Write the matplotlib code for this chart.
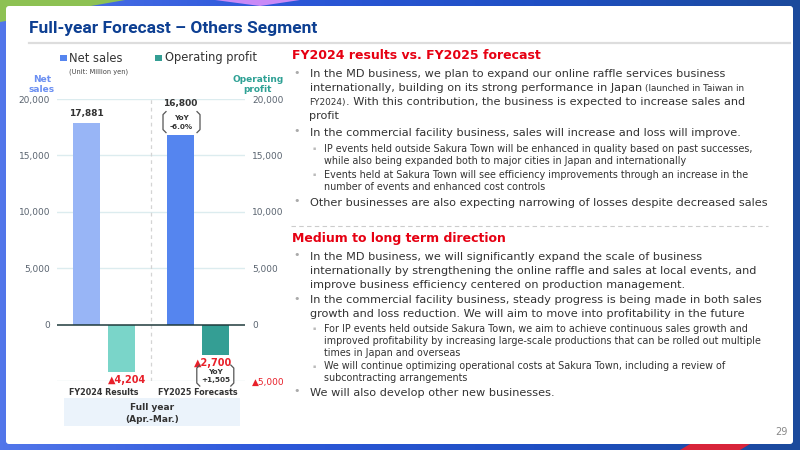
import numpy as np
import matplotlib
matplotlib.use('Agg')
import matplotlib.pyplot as plt
from matplotlib.colors import LinearSegmentedColormap
from matplotlib.patches import FancyBboxPatch, Rectangle, Polygon

# ---- data ----
categories = ['FY2024 Results', 'FY2025 Forecasts']
net_sales = [17881, 16800]
operating_profit = [-4204, -2700]
yoy_labels = ['-6.0%', '+1,505']
y_ticks = [20000, 15000, 10000, 5000, 0, -5000]

title = 'Full-year Forecast \u2013 Others Segment'
heading1 = 'FY2024 results vs. FY2025 forecast'
heading2 = 'Medium to long term direction'

# paragraphs: (level, start y, lines); a line is a list of (text, small)
para1 = [
    (0, 74, [[('In the MD business, we plan to expand our online raffle services business', False)],
             [('internationally, building on its strong performance in Japan ', False),
              ('(launched in Taiwan in', True)],
             [('FY2024)', True), ('. With this contribution, the business is expected to increase sales and', False)],
             [('profit', False)]]),
    (0, 132.5, [[('In the commercial facility business, sales will increase and loss will improve.', False)]]),
    (1, 148.5, [[('IP events held outside Sakura Town will be enhanced in quality based on past successes,', False)],
                [('while also being expanded both to major cities in Japan and internationally', False)]]),
    (1, 175, [[('Events held at Sakura Town will see efficiency improvements through an increase in the', False)],
              [('number of events and enhanced cost controls', False)]]),
    (0, 202.5, [[('Other businesses are also expecting narrowing of losses despite decreased sales', False)]]),
]
para2 = [
    (0, 256.5, [[('In the MD business, we will significantly expand the scale of business', False)],
                [('internationally by strengthening the online raffle and sales at local events, and', False)],
                [('improve business efficiency centered on production management.', False)]]),
    (0, 300, [[('In the commercial facility business, steady progress is being made in both sales', False)],
              [('growth and loss reduction. We will aim to move into profitability in the future', False)]]),
    (1, 328.7, [[('For IP events held outside Sakura Town, we aim to achieve continuous sales growth and', False)],
                [('improved profitability by increasing large-scale productions that can be rolled out multiple', False)],
                [('times in Japan and overseas', False)]]),
    (1, 366, [[('We will continue optimizing operational costs at Sakura Town, including a review of', False)],
              [('subcontracting arrangements', False)]]),
    (0, 392.5, [[('We will also develop other new businesses.', False)]]),
]

W, H = 800, 450
fig = plt.figure(figsize=(8, 4.5), dpi=100)

# background layer in pixel coords (y down)
bg = fig.add_axes([0, 0, 1, 1], zorder=0)
bg.set_axis_off()
bg.set_xlim(0, W)
bg.set_ylim(H, 0)
cmap = LinearSegmentedColormap.from_list('bg', ['#5276ea', '#2d58da', '#1f4fc4', '#1b4a9c'])
bg.imshow(np.linspace(0, 1, 256).reshape(1, -1), aspect='auto', cmap=cmap, extent=[0, W, H, 0])
bg.add_patch(Polygon([[0, 0], [125, 0], [0, 22]], color='#8dc153', lw=0))
bg.add_patch(Polygon([[215, 0], [300, 0], [260, 6]], color='#c98af7', lw=0))
bg.add_patch(Polygon([[680, 450], [740, 450], [760, 438], [700, 438]], color='#d8243a', lw=0))
bg.add_patch(FancyBboxPatch((6, 6), 787, 438, boxstyle='round,pad=0,rounding_size=3',
                            fc='white', ec='none'))
bg.add_patch(Rectangle((64, 398), 176, 28, fc='#ebf3fb', ec='none'))
bg.plot([29, 790], [42.5, 42.5], color='#dddddd', lw=1.6)
bg.plot([291, 768], [226, 226], color='#cccccc', lw=0.8, ls=(0, (4, 3)))

# chart
ax = fig.add_axes([57 / W, 1 - 381 / H, 188 / W, 282 / H], zorder=2)
ax.set_facecolor('none')
x = np.arange(len(categories))
off, bw = 0.184, 0.287
ax.bar(x - off, net_sales, bw, color=['#98b5f6', '#5585ef'], zorder=3)
ax.bar(x + off, operating_profit, bw, color=['#7ad5c9', '#349e94'], zorder=3)
ax.set_xlim(-0.5, 1.5)
ax.set_ylim(-5000, 20000)
for t in y_ticks:
    if t == 0:
        ax.axhline(0, color='#1f3a3c', lw=1.1, zorder=4)
    else:
        ax.axhline(t, color='#dcecef', lw=1.0, zorder=1)
ax.axvline(0.5, color='#d4d4d4', lw=0.9, ls=(0, (3, 3)), zorder=1)
for s in ax.spines.values():
    s.set_visible(False)
ax.set_xticks([])
ax.set_yticks(y_ticks)
ax.set_yticklabels([f'{t:,}' if t >= 0 else '' for t in y_ticks])
ax.tick_params(axis='y', length=0, pad=5, labelsize=6.5, labelcolor='#5a6470')

ax2 = ax.twinx()
ax2.set_ylim(ax.get_ylim())
ax2.set_yticks(y_ticks)
ax2.set_yticklabels([f'{t:,}' if t >= 0 else f'\u25b2{-t:,}' for t in y_ticks])
for lab, t in zip(ax2.get_yticklabels(), y_ticks):
    lab.set_color('#e8202a' if t < 0 else '#5a6470')
for s in ax2.spines.values():
    s.set_visible(False)
ax2.tick_params(axis='y', length=0, pad=5, labelsize=6.5)

# value labels
sales_off = [6.5, 22.5]
for i, v in enumerate(net_sales):
    ax.annotate(f'{v:,}', (x[i] - off, v), xytext=(0, sales_off[i]), textcoords='offset points',
                ha='center', va='center', fontsize=6.5, fontweight='bold', color='#333333', zorder=5)
op_off = [(4, -6), (-1.5, -6)]
for i, v in enumerate(operating_profit):
    ax.annotate(f'\u25b2{-v:,}', (x[i] + off, v), xytext=op_off[i], textcoords='offset points',
                ha='center', va='center', fontsize=7, fontweight='bold', color='#e8202a', zorder=5)
for i, lab in enumerate(categories):
    ax.annotate(lab, (x[i], -5000), xytext=(0, -8), textcoords='offset points',
                ha='center', va='center', fontsize=5.8, fontweight='bold', color='#333333',
                annotation_clip=False)

# overlay layer in pixel coords (y down)
ov = fig.add_axes([0, 0, 1, 1], zorder=5)
ov.set_axis_off()
ov.set_facecolor('none')
ov.set_xlim(0, W)
ov.set_ylim(H, 0)


def to_px(xv, yv):
    d = ax.transData.transform((xv, yv))
    return ov.transData.inverted().transform(d)


def bracket(cx, cy, w, h, top_txt, bot_txt):
    l, r, t, b = cx - w / 2, cx + w / 2, cy - h / 2, cy + h / 2
    c = 3
    ov.plot([l + c, l, l, l + c], [t, t + c, b - c, b], color='#555555', lw=0.9)
    ov.plot([r - c, r, r, r - c], [t, t + c, b - c, b], color='#555555', lw=0.9)
    ov.text(cx, cy - 4, top_txt, ha='center', va='center', fontsize=5.2, fontweight='bold', color='#333333')
    ov.text(cx, cy + 4.5, bot_txt, ha='center', va='center', fontsize=5.2, fontweight='bold', color='#333333')


px0 = to_px(x[1] - off, net_sales[1])
bracket(px0[0] + 0.8, px0[1] - 13, 37, 21, 'YoY', yoy_labels[0])
px1 = to_px(x[1] + off, operating_profit[1])
bracket(px1[0], px1[1] + 20.5, 37, 21, 'YoY', yoy_labels[1])

# legend and axis titles
ov.add_patch(Rectangle((60, 54.5), 6.5, 6.5, color='#5585ef', lw=0))
ov.text(69, 58, 'Net sales', ha='left', va='center', fontsize=8.3, color='#333333')
ov.add_patch(Rectangle((155, 54.5), 6.5, 6.5, color='#349e94', lw=0))
ov.text(165, 58, 'Operating profit', ha='left', va='center', fontsize=8.3, color='#333333')
ov.text(69, 71.5, '(Unit: Million yen)', ha='left', va='center', fontsize=4.8, color='#444444')
ov.text(42, 84.5, 'Net\nsales', ha='center', va='center', fontsize=6.5, fontweight='bold',
        color='#6b8ff2', linespacing=1.0)
ov.text(258, 84.5, 'Operating\nprofit', ha='center', va='center', fontsize=6.5, fontweight='bold',
        color='#2fa195', linespacing=1.0)
ov.text(152, 408, 'Full year', ha='center', va='center', fontsize=6.5, fontweight='bold', color='#333333')
ov.text(152, 419, '(Apr.-Mar.)', ha='center', va='center', fontsize=6.5, fontweight='bold', color='#333333')

# title and page number
ov.text(29, 29, title, ha='left', va='center', fontsize=12.5, fontweight='bold',
        color='#0d3f92', family='Roboto')
ov.text(788, 432, '29', ha='right', va='center', fontsize=7, color='#888888')

# right side text
fig.canvas.draw()
renderer = fig.canvas.get_renderer()


def write_section(head, hy, paras):
    ov.text(292, hy, head, ha='left', va='center', fontsize=9, fontweight='bold', color='#e60012')
    for level, y0, lines in paras:
        if level == 0:
            ov.text(293, y0 - 1, '\u2022', ha='left', va='center', fontsize=8, color='#aaaaaa')
            tx, step, size = 309.5, 14, 8.1
        else:
            ov.text(312.5, y0, '\u25aa', ha='left', va='center', fontsize=3.5, color='#bbbbbb')
            tx, step, size = 323.5, 12, 6.95
        for j, line in enumerate(lines):
            cx = tx
            for txt, small in line:
                t = ov.text(cx, y0 + j * step, txt, ha='left', va='center',
                            fontsize=6.4 if small else size, color='#333333')
                bb = t.get_window_extent(renderer)
                cx += bb.width * W / fig.bbox.width


write_section(heading1, 55.5, para1)
write_section(heading2, 238.5, para2)

fig.savefig('out.png', dpi=100)
